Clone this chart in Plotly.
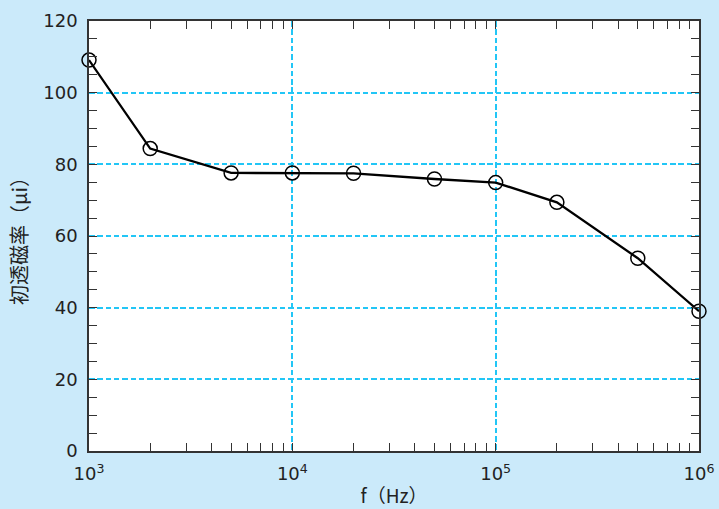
import plotly.graph_objects as go

freq = [1e3, 2e3, 5e3, 1e4, 2e4, 5e4, 1e5, 2e5, 5e5, 1e6]
mu_i = [109.1, 84.4, 77.6, 77.6, 77.5, 75.9, 74.9, 69.4, 53.8, 39.0]

x_major = [1e3, 1e4, 1e5, 1e6]
x_labels = ["10<sup>3</sup>", "10<sup>4</sup>", "10<sup>5</sup>", "10<sup>6</sup>"]
x_minor = [m * 10**e for e in (3, 4, 5) for m in range(2, 10)]
y_major = [0, 20, 40, 60, 80, 100, 120]

num_font = "DejaVu Sans, Noto Sans CJK JP, sans-serif"
cjk_font = "Noto Sans CJK JP, DejaVu Sans, sans-serif"
grid_c = "#22c6f6"
ink = "#222222"

fig = go.Figure()
fig.add_trace(go.Scatter(
    x=freq, y=mu_i, mode="lines+markers",
    line=dict(color="black", width=2.3),
    marker=dict(symbol="circle-open", size=14, color="black", line=dict(width=1.5, color="black")),
    cliponaxis=False,
))

fig.update_layout(
    width=719, height=509,
    paper_bgcolor="#cbeafa", plot_bgcolor="white",
    margin=dict(l=89, r=20, t=21, b=58),
    showlegend=False,
    font=dict(family=num_font, color=ink, size=18),
)
fig.update_xaxes(
    type="log", range=[2.99999, 6.00001], automargin=False,
    tickvals=x_major, ticktext=x_labels,
    ticks="inside", ticklen=8, tickwidth=1.2, tickcolor="#333",
    showline=True, linecolor="#333", linewidth=1.5, mirror="ticks",
    showgrid=True, gridcolor=grid_c, griddash="5.5px,2.8px", gridwidth=1.5,
    minor=dict(tickvals=x_minor, ticks="inside", ticklen=8, tickwidth=1.2, tickcolor="#333", showgrid=False),
    tickfont=dict(size=18, family=num_font),
    ticklabelstandoff=6,
    title=dict(text="f（Hz）", font=dict(size=19, family=cjk_font), standoff=6),
    zeroline=False,
)
fig.update_yaxes(
    range=[0, 120], automargin=False,
    tickvals=y_major,
    ticks="inside", ticklen=8, tickwidth=1.2, tickcolor="#333",
    showline=True, linecolor="#333", linewidth=1.5, mirror="ticks",
    showgrid=True, gridcolor=grid_c, griddash="5.5px,2.8px", gridwidth=1.5,
    minor=dict(dtick=5, ticks="inside", ticklen=8, tickwidth=1.2, tickcolor="#333", showgrid=False),
    tickfont=dict(size=18, family=num_font),
    ticklabelstandoff=6,
    title=dict(text="初透磁率（μi）", font=dict(size=20, family=cjk_font), standoff=10),
    zeroline=False,
)

fig.write_html("out.html")
